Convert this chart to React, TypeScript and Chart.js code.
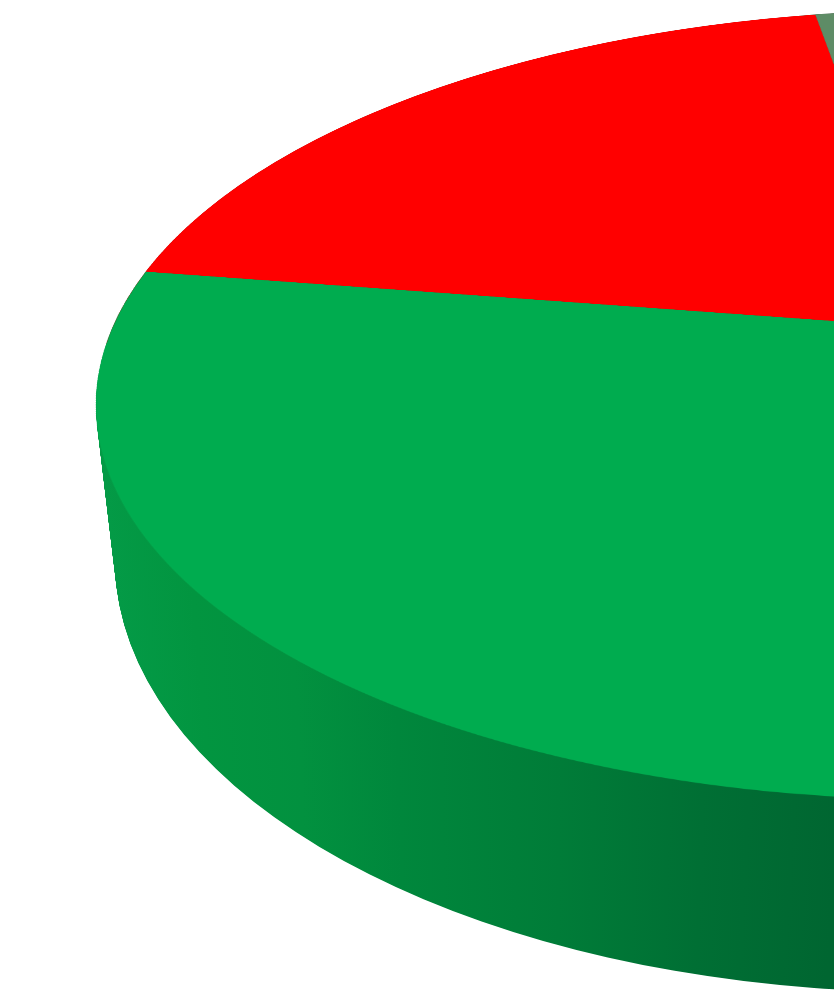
import React, { useEffect, useRef } from 'react';
import { Chart, registerables } from 'chart.js';

Chart.register(...registerables);

// No labels are visible in the picture; shares
const slices = ['Green', 'Red', 'Grey', 'Other'];
const shares = [45, 19.8, 3.2, 32];
const topColors = ['#00ac4f', '#ff0000', '#5e8c66', '#4472c4'];
const wallColors = ['#007a37', '#a80000', '#3e5c43', '#2d4b81'];

// Wall shading of the green slice, screen x -> colour
const wallShadeX = [96, 200, 300, 400, 560, 700, 834];
const wallShadeColor = ['#049b47', '#029540', '#02913f', '#00873c', '#007c38', '#006f34', '#006631'];

const ROTATION = 117;
const SIZE = 1800;

// Projected outline of the top face and of the bottom edge
const TOP = { cx: 944, cy: 405, a: 848, b: 395 };
const BOTTOM = { cx: 925, cy: 560, a: 810, b: 432 };
// Where the pie's centre lands after the perspective
const HUB = { x: 932, y: 328 };

/** circle -> ellipse homography that also moves the centre to HUB, as CSS matrix3d */
function topFaceMatrix(): string {
  const bx = (HUB.x - TOP.cx) / TOP.a;
  const by = (HUB.y - TOP.cy) / TOP.b;
  const g = 1 / Math.sqrt(1 - bx * bx - by * by);
  const q = (g * g) / (g + 1);
  const L = [
    [1 + q * bx * bx, q * bx * by, g * bx],
    [q * bx * by, 1 + q * by * by, g * by],
    [g * bx, g * by, g],
  ];
  const R = SIZE / 2;
  // H = E * L * N, N: canvas px -> unit circle, E: unit circle -> screen
  const col = (c: number) => {
    const x = TOP.a * L[0][c] + TOP.cx * L[2][c];
    const y = TOP.b * L[1][c] + TOP.cy * L[2][c];
    return [x, y, L[2][c]];
  };
  const c0 = col(0).map(v => v / R);
  const c1 = col(1).map(v => v / R);
  const c2 = col(2).map((v, i) => v - c0[i] * R - c1[i] * R);
  return `matrix3d(${c0[0]},${c0[1]},0,${c0[2]},${c1[0]},${c1[1]},0,${c1[2]},0,0,1,0,${c2[0]},${c2[1]},0,${c2[2]})`;
}

// Draws the pie again and again from the bottom outline up to the top one
const wallStack = {
  id: 'wallStack',
  beforeDatasetsDraw(chart: any) {
    const ctx = chart.ctx;
    const arcs = chart.getDatasetMeta(0).data;
    const R = arcs[0].outerRadius;
    const steps = 220;
    for (let i = 0; i <= steps; i++) {
      const k = i / steps;
      const mix = (p: number, q: number) => p + (q - p) * k;
      ctx.save();
      ctx.translate(mix(BOTTOM.cx, TOP.cx), mix(BOTTOM.cy, TOP.cy));
      ctx.scale(mix(BOTTOM.a, TOP.a) / R, mix(BOTTOM.b, TOP.b) / R);
      ctx.translate(-arcs[0].x, -arcs[0].y);
      arcs.forEach((el: any) => el.draw(ctx));
      ctx.restore();
    }
    return false;
  },
};

const pieOptions = {
  responsive: false,
  animation: false as const,
  rotation: ROTATION,
  layout: { padding: 0 },
  events: [],
  plugins: { legend: { display: false }, tooltip: { enabled: false } },
};

export default function App() {
  const wallRef = useRef<HTMLCanvasElement | null>(null);
  const topRef = useRef<HTMLCanvasElement | null>(null);

  useEffect(() => {
    if (!wallRef.current || !topRef.current) return;

    const wallCtx = wallRef.current.getContext('2d')!;
    const W = 834;
    // gradient lives in the chart's own coordinates, before the stack transform
    const toChartX = (x: number) => W / 2 + ((x - 935) * (W / 2)) / 829;
    const shade = wallCtx.createLinearGradient(toChartX(96), 0, toChartX(834), 0);
    wallShadeX.forEach((x, i) => shade.addColorStop((x - 96) / (834 - 96), wallShadeColor[i]));

    const wall = new Chart(wallCtx, {
      type: 'pie',
      data: {
        labels: slices,
        datasets: [{
          data: shares,
          backgroundColor: [shade, ...wallColors.slice(1)],
          borderWidth: 0,
          hoverOffset: 0,
        }],
      },
      options: { ...pieOptions, devicePixelRatio: 1 } as any,
      plugins: [wallStack],
    });

    const top = new Chart(topRef.current, {
      type: 'pie',
      data: {
        labels: slices,
        datasets: [{
          data: shares,
          backgroundColor: topColors,
          borderWidth: 0,
          hoverOffset: 0,
        }],
      },
      options: { ...pieOptions, devicePixelRatio: 1 } as any,
    });

    return () => {
      wall.destroy();
      top.destroy();
    };
  }, []);

  return (
    <div style={{ position: 'fixed', left: 0, top: 0, width: 834, height: 1007, overflow: 'hidden', background: '#ffffff' }}>
      <canvas ref={wallRef} width={834} height={1007} style={{ position: 'absolute', left: 0, top: 0 }} />
      <div
        style={{
          position: 'absolute',
          left: 0,
          top: 0,
          width: SIZE,
          height: SIZE,
          transformOrigin: '0 0',
          transform: topFaceMatrix(),
        }}
      >
        <canvas ref={topRef} width={SIZE} height={SIZE} />
      </div>
    </div>
  );
}
